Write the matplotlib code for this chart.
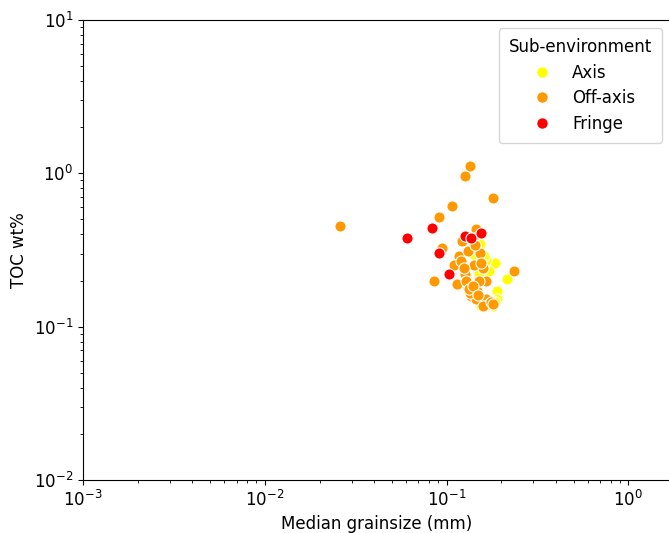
import matplotlib
matplotlib.use("Agg")
import matplotlib.pyplot as plt
from matplotlib.lines import Line2D

axis_x = [0.184, 0.165, 0.214, 0.189, 0.189, 0.152, 0.146, 0.155, 0.179, 0.124, 0.152, 0.146, 0.160, 0.150, 0.160, 0.170, 0.140, 0.172, 0.185]
axis_y = [0.259, 0.271, 0.205, 0.170, 0.151, 0.334, 0.265, 0.136, 0.136, 0.393, 0.345, 0.320, 0.290, 0.220, 0.150, 0.230, 0.300, 0.140, 0.145]

off_x = [0.134, 0.126, 0.179, 0.1066, 0.0903, 0.026, 0.146, 0.0947, 0.1165, 0.1093, 0.0853, 0.1135,
         0.234, 0.121, 0.131, 0.152, 0.158, 0.126, 0.141, 0.164, 0.131, 0.1464, 0.137, 0.146, 0.164,
         0.1705, 0.158, 0.128, 0.135, 0.120, 0.140, 0.155, 0.175, 0.130, 0.143, 0.125, 0.180, 0.150,
         0.133, 0.140, 0.148]
off_y = [1.11, 0.956, 0.687, 0.609, 0.516, 0.451, 0.431, 0.324, 0.288, 0.251, 0.200, 0.189,
         0.230, 0.360, 0.310, 0.301, 0.240, 0.219, 0.251, 0.200, 0.180, 0.170, 0.158, 0.151, 0.151,
         0.140, 0.136, 0.200, 0.165, 0.270, 0.380, 0.260, 0.145, 0.390, 0.340, 0.240, 0.140, 0.200,
         0.175, 0.185, 0.162]

fringe_x = [0.0602, 0.0834, 0.0903, 0.1026, 0.126, 0.137, 0.154]
fringe_y = [0.377, 0.440, 0.301, 0.219, 0.388, 0.377, 0.406]

groups = [("Axis", axis_x, axis_y, "#ffff00"),
          ("Off-axis", off_x, off_y, "#ff9900"),
          ("Fringe", fringe_x, fringe_y, "#ff0000")]

plt.rcParams["font.size"] = 12

fig = plt.figure(figsize=(6.69, 5.33), dpi=100)
ax = fig.add_axes([0.124, 0.0994, 0.878, 0.8631])
for name, xs, ys, c in groups:
    ax.scatter(xs, ys, s=65, c=c, edgecolors="white", linewidths=0.8, label=name, zorder=3)

ax.set_xscale("log")
ax.set_yscale("log")
ax.set_xlim(1e-3, 1.7)
ax.set_ylim(1e-2, 1e1)
ax.tick_params(labelsize=12)
ax.set_xlabel("Median grainsize (mm)", fontsize=12)
ax.set_ylabel("TOC wt%", fontsize=12)

handles = [Line2D([], [], marker="o", ls="", markerfacecolor=c, markeredgecolor="white",
                  markersize=8.5, label=n) for n, _, _, c in groups]
leg = ax.legend(handles=handles, title="Sub-environment", loc="upper right", fontsize=12,
                title_fontsize=12, borderaxespad=0.5, labelspacing=0.45, borderpad=0.6)

fig.savefig("out.png", dpi=100)
